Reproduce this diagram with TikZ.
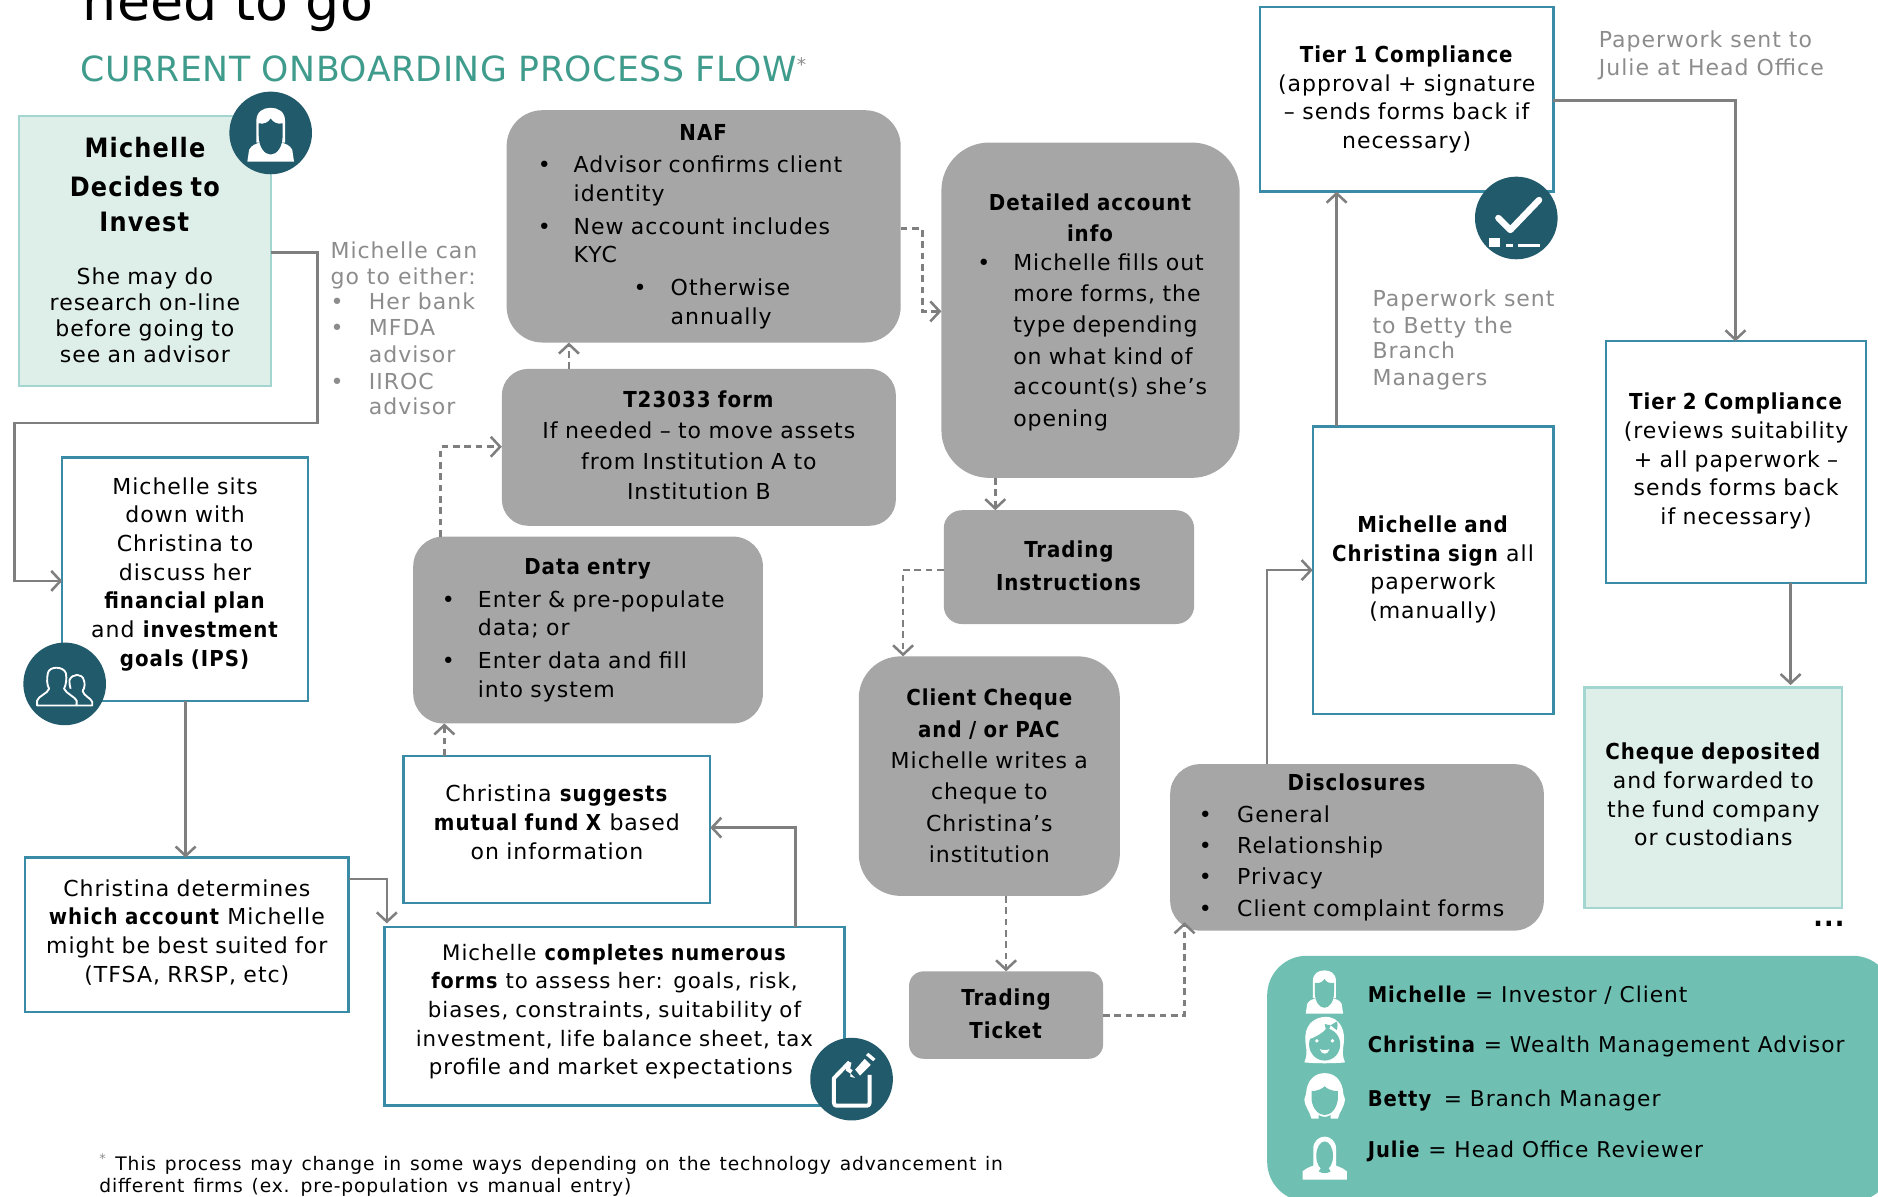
\documentclass[tikz,border=0pt]{standalone}
\usepackage{fontspec}
\setmainfont{DejaVu Sans}[LetterSpace=4.5,BoldFont={DejaVu Sans Condensed Bold}]
\newfontfamily\ttlf{DejaVu Sans}[LetterSpace=1.5]
\newfontfamily\bigf{DejaVu Sans}
\newfontfamily\footf{DejaVu Sans}[LetterSpace=4.5,WordSpace=1.3]
\usetikzlibrary{arrows.meta}
\definecolor{boxline}{HTML}{3A8CA6}
\definecolor{greybox}{HTML}{A6A6A6}
\definecolor{paleface}{HTML}{DEEEE9}
\definecolor{paleline}{HTML}{A3D6D1}
\definecolor{deep}{HTML}{215A6B}
\definecolor{legendteal}{HTML}{6FC0B2}
\definecolor{titleteal}{HTML}{3F9C8C}
\definecolor{linegrey}{HTML}{7F7F7F}
\definecolor{notegrey}{HTML}{8C8C8C}
\newdimen\uu \uu=0.89828pt
\newcommand\bdy{\fontsize{16.5}{21.5}\selectfont}
\newcommand\bx[7]{\pgfmathsetmacro\cxx{(#3+#5)/2}\pgfmathsetmacro\cyy{(#4+#6)/2}\pgfmathsetmacro\wxx{#5-#3}\pgfmathsetmacro\hxx{#6-#4}%
\node[#2,minimum width=\wxx\uu,minimum height=\hxx\uu,text width=\wxx\uu] (#1) at (\cxx,\cyy) {#7};}
\newcommand\bl[3]{\hspace*{#1\uu}\makebox[\dimexpr#2\uu-#1\uu\relax][l]{•}#3}
\newcommand\hd[1]{\makebox[\hsize][c]{\textbf{#1}}}
\newcommand\up[1]{\par\vskip#1\uu\hrule height0pt width0pt\relax}
\newcommand\lft{\hspace*{6\uu}}
\tikzset{
 base/.style={inner sep=0pt,outer sep=0pt,font=\bdy},
 wbox/.style={base,draw=boxline,line width=1.7pt,fill=white,align=center},
 pale/.style={base,draw=paleline,line width=1.7pt,fill=paleface,align=center},
 gbox/.style={base,fill=greybox,align=center},
 lbox/.style={base,fill=greybox,align=left},
 note/.style={inner sep=0pt,outer sep=0pt,font=\bdy,text=notegrey,align=left,anchor=north west},
 cn/.style={draw=linegrey,line width=1.9pt,-{Straight Barb[length=7pt,width=15pt,line width=1.9pt]}},
 dcn/.style={cn,dash pattern=on 5pt off 3.5pt},
 disc/.style={circle,fill=deep,minimum size=69\uu,inner sep=0pt,outer sep=0pt},
 legendline/.style={inner sep=0pt,outer sep=0pt,font=\fontsize{16.3}{21.5}\selectfont,anchor=west},
 pics/woman/.style={code={
  \fill[white] (-12,8) -- (-12,-10) .. controls (-12,-18) and (-6,-21) .. (0,-21) .. controls (6,-21) and (12,-18) .. (12,-10) -- (12,8) -- cycle;
  \fill[white] (-19.5,24) -- (-18,14) .. controls (-16,10) and (-12,9) .. (-9,8) -- (9,8) .. controls (12,9) and (16,10) .. (18,14) -- (19.5,24) -- cycle;
  \fill[#1] (-10,-8) .. controls (-5,-7) and (-2,-9) .. (0,-12) .. controls (2,-9) and (5,-7) .. (10,-8) -- (10,2) .. controls (10,12) and (5,18) .. (0,18) .. controls (-5,18) and (-10,12) .. (-10,2) -- cycle;
 }},
 pics/girl/.style={code={
  \fill[white] (-17,19) .. controls (-13,10) and (-17,5) .. (-16,-4) .. controls (-15,-14) and (-7,-19) .. (1,-19) .. controls (9,-19) and (15,-13) .. (16,-4) .. controls (17,5) and (13,10) .. (17,19) .. controls (8,20) and (-8,20) .. (-17,19) -- cycle;
  \fill[#1] (0,4) ellipse [x radius=13,y radius=13.5];
  \fill[white] (-14,0) .. controls (-8,-2) and (-2,-5) .. (2,-10) -- (2,-16) -- (-12,-14) -- cycle;
  \fill[#1] (5,-12) -- (10,-15) .. controls (11,-15) and (11,-9) .. (10,-8) -- cycle;
  \fill[#1] (5,-12) -- (0,-13) .. controls (0,-11) and (1,-8) .. (3,-7) -- cycle;
  \fill[white] (-6.5,1) circle (1.6) (6.5,1) circle (1.6);
  \fill[white] (-4,8) .. controls (-2,9) and (2,9) .. (4,8) .. controls (3,13) and (-3,13) .. (-4,8) -- cycle;
 }},
 pics/longhair/.style={code={
  \fill[white] (-11,19) .. controls (-12,14) and (-17,8) .. (-17,3) .. controls (-16,0) and (-15,-3) .. (-15,-6) .. controls (-13,-15) and (-7,-19) .. (0,-19) .. controls (7,-19) and (13,-15) .. (15,-6) .. controls (15,-3) and (16,0) .. (17,3) .. controls (17,8) and (12,14) .. (11,19) -- cycle;
  \fill[#1] (-11,-4) .. controls (-6,-4) and (-2,-6) .. (0,-8) .. controls (2,-6) and (6,-4) .. (11,-4) -- (11,3) .. controls (10,11) and (5,16) .. (0,16) .. controls (-5,16) and (-10,11) .. (-11,3) -- cycle;
  \fill[#1] (-5,19.5) -- (-5,16) .. controls (-2,18) and (2,18) .. (5,16) -- (5,19.5) -- cycle;
 }},
 pics/necklace/.style={code={
  \fill[white] (-9.5,7) -- (-9.5,-8) .. controls (-9.5,-14) and (-5,-18) .. (0,-18) .. controls (5,-18) and (9.5,-14) .. (9.5,-8) -- (9.5,7) -- cycle;
  \fill[white] (-18.5,18) -- (-18.5,11) .. controls (-14,7) and (-10,7) .. (-7,5) -- (7,5) .. controls (10,7) and (14,7) .. (18.5,11) -- (18.5,18) -- cycle;
  \fill[#1] (0,-2) ellipse [x radius=7,y radius=12];
  \fill[#1] (-3,8) -- (3,8) -- (5,11) .. controls (2,13) and (-2,13) .. (-5,11) -- cycle;
 }},
 pics/pair/.style={code={
  \draw[white,line width=1.4pt,line join=round] (-23,18) -- (-23,14) .. controls (-22,10) and (-14,8) .. (-13,4) .. controls (-15,1) and (-15,-5) .. (-14,-9) .. controls (-13,-15) and (-1,-15) .. (1,-9) .. controls (2,-4) and (1,1) .. (-0.5,4) .. controls (1,8) and (9,11) .. (10,14) -- (10,18) -- cycle;
  \draw[white,line width=1.4pt,line join=round] (10,18) -- (23,18) -- (23,15) .. controls (22,12) and (16,10) .. (15,6) .. controls (17,3) and (17,-1) .. (16,-3) .. controls (15,-9) and (6,-9) .. (4,-3) .. controls (4,-1) and (4,1) .. (5,4);
 }},
 pics/formicon/.style={code={
  \draw[white,line width=3pt,line join=round] (-1.7,-14.2) -- (-14.7,-0.8) -- (-14.7,20) [rounded corners=2pt] -- (-14.7,22.2) -- (15,22.2) -- (15,-3.6);
  \draw[white,line width=3pt] (-1.7,-14.2) -- (-3,-8) -- (0,-6);
  \fill[white] (3,-8) -- (11,-17) -- (16,-12) -- (7,-3) -- cycle;
  \fill[white] (12,-20) -- (14,-22) -- (20,-17) -- (18,-15) -- cycle;
  \fill[white] (-1,-2) -- (3,-1) -- (-1,-5) -- cycle;
 }},
 pics/tickicon/.style={code={
  \draw[white,line width=4.8pt,line cap=round,line join=round] (-15,0) -- (-5,10) -- (19,-15);
  \fill[white] (-23,17) rectangle (-14,24);
  \fill[white] (-9,22) rectangle (-3,24);
  \fill[white] (1,22) rectangle (20,24);
 }},
}
\begin{document}
\begin{tikzpicture}[x=0.89828pt,y=-0.89828pt]
\useasboundingbox (0,0) rectangle (1568,999.4);
\clip (0,0) rectangle (1568,999.4);
% titles
\node[inner sep=0pt,anchor=base west,font=\bigf\fontsize{40.4}{40}\selectfont] (bigtitle) at (69,17) {need to go};
\node[inner sep=0pt,anchor=base west,text=titleteal,font=\ttlf\fontsize{26}{30}\selectfont] (subtitle) at (67,68) {CURRENT ONBOARDING PROCESS FLOW{\fontsize{20}{24}\selectfont\textsuperscript{\textcolor{notegrey}{*}}}};
% boxes
\bx{A}{pale,font=\fontsize{16.5}{19.5}\selectfont}{16}{97}{226}{322}{{\fontsize{20}{22}\selectfont\textbf{Michelle\\[7pt]Decides to\\[7pt]Invest}}\\[20pt]She may do\\research on-line\\before going to\\see an advisor\up{2}}
\bx{B}{wbox}{52}{382}{257}{585}{Michelle sits\\down with\\Christina to\\discuss her\\\textbf{financial plan}\\and \textbf{investment}\\\textbf{goals (IPS)}\up{8}}
\bx{C}{wbox}{21}{716}{291}{845}{Christina determines\\\textbf{which account} Michelle\\might be best suited for\\(TFSA, RRSP, etc)\up{4}}
\bx{D}{wbox,font=\fontsize{16}{21.5}\selectfont}{321}{774}{705}{923}{Michelle \textbf{completes numerous}\lft\\\textbf{forms} to assess her: goals, risk,\lft\\biases, constraints, suitability of\lft\\investment, life balance sheet, tax\lft\\profile and market expectations\lft\up{8}}
\bx{E}{wbox}{337}{631}{593}{754}{Christina \textbf{suggests}\\\textbf{mutual fund X} based\\on information\up{12}}
\bx{F}{lbox,rounded corners=25\uu}{345}{448}{637}{604}{\hd{Data entry}\\[3pt]\bl{24}{54}{Enter \& pre-populate}\\\hspace*{54\uu}data; or\\[3pt]\bl{24}{54}{Enter data and fill}\\\hspace*{54\uu}into system}
\bx{G}{gbox,rounded corners=22\uu}{419}{308}{748}{439}{\textbf{T23033 form}\\[1.5pt]If needed – to move assets\\[1.5pt]from Institution A to\\[1.5pt]Institution B\up{3}}
\bx{H}{lbox,rounded corners=30\uu}{423}{92}{752}{286}{\hd{NAF}\\[3pt]\bl{26}{56}{Advisor confirms client}\\\hspace*{56\uu}identity\\[3pt]\bl{26}{56}{New account includes}\\\hspace*{56\uu}KYC\\[3pt]\bl{106}{137}{Otherwise}\\\hspace*{137\uu}annually}
\bx{I}{lbox,rounded corners=40\uu}{786}{119}{1035}{399}{\vskip3\uu\hd{Detailed account}\\[2pt]\hd{info}\\[0pt]\bl{30}{60}{Michelle fills out}\\[2pt]\hspace*{60\uu}more forms, the\\[2pt]\hspace*{60\uu}type depending\\[2pt]\hspace*{60\uu}on what kind of\\[1.5pt]\hspace*{60\uu}account(s) she’s\\[2pt]\hspace*{60\uu}opening\up{10}}
\bx{J}{gbox,rounded corners=15\uu}{788}{426}{997}{521}{\textbf{Trading\\[3pt]Instructions}\up{2}}
\bx{K}{gbox,rounded corners=35\uu}{717}{548}{935}{748}{\textbf{Client Cheque\\[2pt]and / or PAC}\\[2pt]Michelle writes a\\[2pt]cheque to\\[2pt]Christina’s\\[2pt]institution}
\bx{L}{gbox,rounded corners=12\uu}{759}{811}{921}{884}{\textbf{Trading\\[3pt]Ticket}\up{2}}
\bx{M}{lbox,rounded corners=25\uu}{977}{638}{1289}{777}{\hd{Disclosures}\\[2pt]\bl{24}{56}{General}\\[2pt]\bl{24}{56}{Relationship}\\[2pt]\bl{24}{56}{Privacy}\\[2pt]\bl{24}{56}{Client complaint forms}}
\bx{N}{wbox}{1096}{356}{1297}{596}{\textbf{Michelle and}\\\textbf{Christina sign} all\\paperwork\\(manually)\up{1}}
\bx{O}{wbox}{1052}{6}{1297}{160}{\textbf{Tier 1 Compliance}\\(approval + signature\\– sends forms back if\\necessary)}
\bx{P}{wbox}{1341}{285}{1558}{487}{\textbf{Tier 2 Compliance}\\(reviews suitability\\+ all paperwork –\\sends forms back\\if necessary)\up{2}}
\bx{Q}{pale}{1323}{574}{1538}{758}{\textbf{Cheque deposited}\\and forwarded to\\the fund company\\or custodians\up{5}}
% legend
\fill[legendteal,rounded corners=33\uu] (1058,798) rectangle (1580,1003);
% connectors
\draw[cn] (A.east |- 0,211) -| (265,353) -| (12,485) -- (B.west |- 0,485);
\draw[cn] (B.south -| 155,0) -- (C.north -| 155,0);
\draw[cn] (C.east |- 0,734) -| (323,771);
\draw[cn] (D.north -| 664,0) |- (E.east |- 0,691);
\draw[dcn] (E.north -| 371,0) -- (F.south -| 371,0);
\draw[dcn] (F.north -| 368,0) |- (G.west |- 0,373);
\draw[dcn] (G.north -| 475,0) -- (H.south -| 475,0);
\draw[dcn] (H.east |- 0,191) -| (770,260) -- (I.west |- 0,260);
\draw[dcn] (I.south -| 831,0) -- (J.north -| 831,0);
\draw[dcn] (J.west |- 0,476) -| (K.north -| 754,0);
\draw[dcn] (K.south -| 840,0) -- (L.north -| 840,0);
\draw[dcn] (L.east |- 0,848) -| (989,770);
\draw[cn] (M.north -| 1058,0) |- (N.west |- 0,476);
\draw[cn] (N.north -| 1116,0) -- (O.south -| 1116,0);
\draw[cn] (O.east |- 0,84) -| (P.north -| 1449,0);
\draw[cn] (P.south -| 1495,0) -- (1495,572);
% discs with icons
\node[disc] (discA) at (226,111) {};
\pic at (discA.center) {woman=deep};
\node[disc] (discB) at (54,571) {};
\pic at (discB.center) {pair};
\node[disc] (discD) at (711,901) {};
\pic at (discD.center) {formicon};
\node[disc] (discO) at (1266,182) {};
\pic at (discO.center) {tickicon};
% notes
\node[note,font=\fontsize{16.5}{19.5}\selectfont] (noteA) at (276,202) {Michelle can\\go to either:\\[-1pt]\makebox[32\uu][l]{•}Her bank\\\makebox[32\uu][l]{•}MFDA\\[1pt]\hspace*{32\uu}advisor\\[1pt]\makebox[32\uu][l]{•}IIROC\\[-1pt]\hspace*{32\uu}advisor};
\node[note,font=\fontsize{16.5}{20.5}\selectfont] (noteJ) at (1335,26) {Paperwork sent to\\Julie at Head Office};
\node[note,font=\fontsize{16.5}{20.5}\selectfont] (noteB) at (1146,242) {Paperwork sent\\to Betty the\\[-2pt]Branch\\Managers};
\node[inner sep=0pt,outer sep=0pt,font=\bfseries\fontsize{21}{24}\selectfont] (dots) at (1527,771) {...};
% footnote
\node[inner sep=0pt,outer sep=0pt,anchor=north west,align=left,font=\footf\fontsize{14}{17}\selectfont] (foot) at (83,963) {\textcolor{notegrey}{\textsuperscript{*}} This process may change in some ways depending on the technology advancement in\\different firms (ex. pre-population vs manual entry)};
% legend
\pic[scale=.8] at (1105.8,827) {woman=legendteal};
\pic at (1106,868) {girl=legendteal};
\pic at (1106,915) {longhair=legendteal};
\pic at (1106,967) {necklace=legendteal};
\node[legendline] (lg1) at (1142,831) {\textbf{Michelle} = Investor / Client};
\node[legendline] (lg2) at (1142,874) {\textbf{Christina} = Wealth Management Advisor};
\node[legendline] (lg3) at (1142,919) {\textbf{Betty} \,= Branch Manager};
\node[legendline] (lg4) at (1142,961) {\textbf{Julie} = Head Office Reviewer};
\end{tikzpicture}
\end{document}
